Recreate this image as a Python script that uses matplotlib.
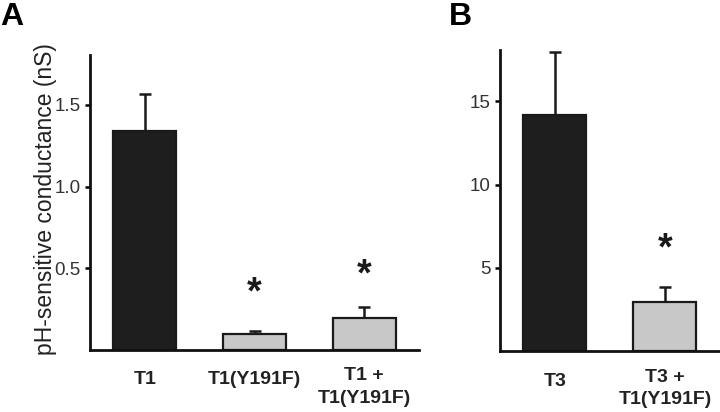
import matplotlib
matplotlib.use("Agg")
import matplotlib.pyplot as plt

plt.rcParams['font.family'] = ['Liberation Sans', 'DejaVu Sans']

# Panel A data
cats_a = ["T1", "T1(Y191F)", "T1 +\nT1(Y191F)"]
vals_a = [1.34, 0.10, 0.195]
errs_a = [0.225, 0.018, 0.07]
colors_a = ["#1e1e1e", "#c8c8c8", "#c8c8c8"]
star_a = [None, 0.349, 0.459]
yticks_a = [0.5, 1.0, 1.5]
yticklabels_a = ["0.5", "1.0", "1.5"]

# Panel B data
cats_b = ["T3", "T3 +\nT1(Y191F)"]
vals_b = [14.2, 2.97]
errs_b = [3.8, 0.85]
colors_b = ["#1e1e1e", "#c8c8c8"]
star_b = [None, 6.08]
yticks_b = [5, 10, 15]
yticklabels_b = ["5", "10", "15"]

fig = plt.figure(figsize=(7.2, 4.12), dpi=100)
axA = fig.add_axes([0.125, 0.1505, 0.457, 0.716])
axB = fig.add_axes([0.694, 0.148, 0.306, 0.731])


def draw(ax, cats, vals, errs, colors, stars, yticks, ytl, ylim):
    x = list(range(len(cats)))
    ax.bar(x, vals, width=0.573, color=colors, edgecolor="#1a1a1a",
           linewidth=1.6, zorder=2)
    ax.errorbar(x, vals, yerr=[[0] * len(errs), errs], fmt="none",
                ecolor="#1a1a1a", elinewidth=1.8, capsize=4, capthick=1.8,
                zorder=1)
    for xi, s in zip(x, stars):
        if s is not None:
            ax.text(xi, s, "*", ha="center", va="center", fontsize=27,
                    fontweight="bold", color="#1a1a1a")
    ax.set_xlim(-0.5, len(cats) - 0.5)
    ax.set_ylim(*ylim)
    ax.set_yticks(yticks)
    ax.set_yticklabels(ytl, fontsize=13.5, color="#333333")
    ax.set_xticks(x)
    ax.set_xticklabels([""] * len(cats))
    for xi, c in zip(x, cats):
        off = 17.5 if "\n" in c else 21.5
        ax.annotate(c, xy=(xi, 0), xycoords=("data", "axes fraction"),
                    xytext=(0, -off), textcoords="offset pixels",
                    ha="center", va="top", fontsize=14, fontweight="bold",
                    color="#222222", linespacing=1.4, annotation_clip=False)
    ax.tick_params(axis="x", length=0)
    ax.tick_params(axis="y", length=3.5, width=1.8, direction="out", pad=3)
    for sp in ["top", "right"]:
        ax.spines[sp].set_visible(False)
    for sp in ["left", "bottom"]:
        ax.spines[sp].set_linewidth(2)
        ax.spines[sp].set_color("#111111")


draw(axA, cats_a, vals_a, errs_a, colors_a, star_a, yticks_a, yticklabels_a, (0, 1.806))
draw(axB, cats_b, vals_b, errs_b, colors_b, star_b, yticks_b, yticklabels_b, (0, 18.1))

axA.set_ylabel("pH-sensitive conductance (nS)", fontsize=16.5, color="#222222")
axA.yaxis.set_label_coords(-0.100, 0.512)

fig.text(0.0, 0.995, "A", fontsize=23, fontweight="bold", va="top", ha="left")
fig.text(0.624, 0.995, "B", fontsize=23, fontweight="bold", va="top", ha="left")

fig.savefig("out.png", dpi=100)
